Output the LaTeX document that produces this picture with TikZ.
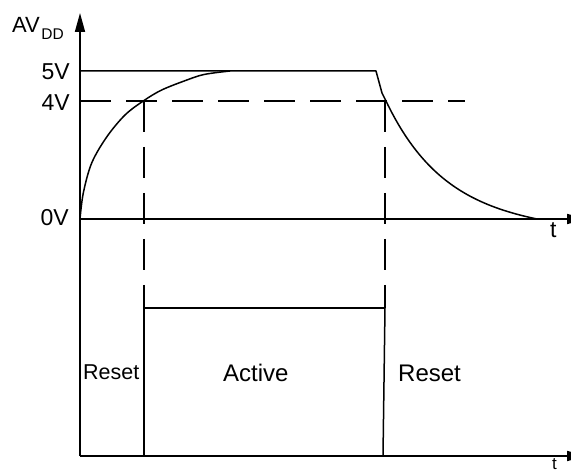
\documentclass[tikz,border=0pt]{standalone}
\usepackage{fontspec}
\setmainfont{Liberation Sans}
\usetikzlibrary{arrows.meta}
\begin{document}
\begin{tikzpicture}[x=1pt,y=-1pt,
  ln/.style={line width=1.5pt},
  ax/.style={line width=1.7pt},
  dsh/.style={line width=1.5pt, dash pattern=on 31pt off 15pt},
  lbl/.style={inner sep=0pt, font=\fontsize{23}{23}\selectfont},
  tip/.style={-{Triangle[length=19pt,width=10pt]}}]
\useasboundingbox (0,0) rectangle (571,473);
% coordinates
\coordinate (O) at (80,219);
\coordinate (Ytop) at (80,13);
\coordinate (Ybot) at (80,456);
\coordinate (Xend) at (586,219);
\coordinate (Bend) at (586,456);
\coordinate (FiveL) at (80,71);
\coordinate (FiveR) at (376,71);
\coordinate (Knee) at (382,93);
\coordinate (FallS) at (386,101);
\coordinate (FourL) at (80,101);
\coordinate (FourR) at (465,101);
\coordinate (A1) at (144,101);
\coordinate (A2) at (144,308);
\coordinate (A3) at (144,456);
\coordinate (B1) at (385,101);
\coordinate (B2) at (385,308);
\coordinate (B3) at (383,456);
% axes
\draw[ax,tip] (Ybot) -- (Ytop);
\draw[ax,tip] (O) -- (Xend);
\draw[ax,tip] (Ybot) -- (Bend);
% dashed
\draw[dsh] (FourL) -- (FourR);
\draw[dsh] (A1) -- (A2);
\draw[dsh] (B1) -- (B2);
% active window
\draw[ln] (A2) -- (A3);
\draw[ln] (A2) -- (B2);
\draw[ln] (B2) -- (B3);
% 5V level and fall
\draw[ln,line join=round] (FiveL) -- (FiveR) -- (Knee) -- (FallS)
  -- plot[domain=0:151, samples=80] ({386+\x}, {219-118*(exp(-\x/58)-0.074*\x/151)});
% rise
\draw[ln] plot[smooth,tension=0.55] coordinates {(80,219) (83.3,193) (91.7,163) (106.7,137) (125,115) (144,100.5) (161.7,90) (185,80.7) (204,74.5) (230,71)};
% labels
\node[lbl, font=\fontsize{22}{22}\selectfont, anchor=base west] (av) at (12,33) {AV};
\node[inner sep=0pt, anchor=base west, font=\fontsize{15.5}{15.5}\selectfont] (dd) at ([yshift=-7pt,xshift=1pt]av.base east) {DD};
\node[lbl, anchor=base east] (v5) at (70,80) {5V};
\node[lbl, anchor=base east] (v4) at (70,111) {4V};
\node[lbl, anchor=base east] (v0) at (69,226) {0V};
\node[lbl, anchor=base west] (t1) at (550,238) {t};
\node[lbl, font=\fontsize{17}{17}\selectfont, anchor=base west] (t2) at (552,469.5) {t};
\node[lbl, font=\fontsize{21.5}{21.5}\selectfont, anchor=base west] (r1) at (83,380) {Reset};
\node[lbl, font=\fontsize{24}{24}\selectfont, anchor=base west] (act) at (223,382) {Active};
\node[lbl, font=\fontsize{24}{24}\selectfont, anchor=base west] (r2) at (398,382) {Reset};
\end{tikzpicture}
\end{document}
